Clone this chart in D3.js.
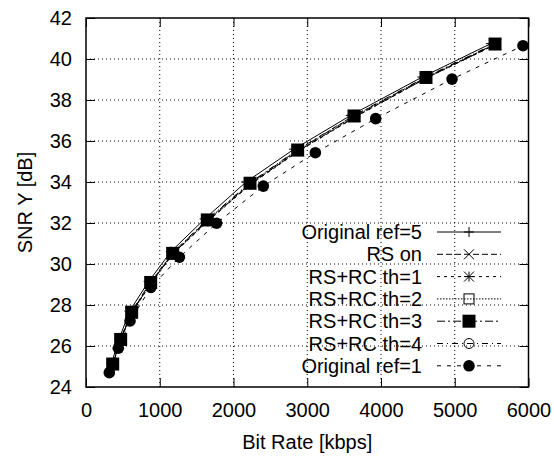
<!DOCTYPE html>
<html>
<head>
<meta charset="utf-8">
<script src="https://cdn.jsdelivr.net/npm/d3@7"></script>
<style>
  body { margin: 0; background: #fff; }
  svg { font-family: "Liberation Sans", Arial, Helvetica, sans-serif; }
</style>
</head>
<body>
<div id="chart"></div>
<script>
// Data
var seriesNames = ["Original ref=5", "RS on", "RS+RC th=1", "RS+RC th=2", "RS+RC th=3", "RS+RC th=4", "Original ref=1"];

var rateRef5 = [345, 450, 590, 850, 1150, 1610, 2170, 2820, 3590, 4560, 5490];
var snrRef5  = [25.15, 26.35, 27.7, 29.15, 30.6, 32.2, 34.0, 35.6, 37.25, 39.12, 40.75];

var rateRsOn = [360, 468, 615, 875, 1178, 1650, 2230, 2880, 3650, 4620, 5560];
var snrRsOn  = [25.1, 26.28, 27.6, 29.05, 30.5, 32.1, 33.9, 35.52, 37.18, 39.08, 40.72];

var rateTh1 = [362, 470, 618, 878, 1180, 1652, 2232, 2882, 3652, 4618, 5558];
var snrTh1  = [25.08, 26.27, 27.58, 29.03, 30.48, 32.08, 33.88, 35.5, 37.17, 39.07, 40.71];

var rateTh2 = [360, 469, 617, 876, 1177, 1648, 2228, 2878, 3645, 4612, 5552];
var snrTh2  = [25.1, 26.3, 27.62, 29.06, 30.5, 32.12, 33.92, 35.53, 37.2, 39.1, 40.72];

var rateTh3 = [362, 470, 619, 877, 1175, 1645, 2224, 2870, 3634, 4610, 5546];
var snrTh3  = [25.12, 26.32, 27.65, 29.1, 30.52, 32.15, 33.94, 35.56, 37.22, 39.1, 40.73];

var rateTh4 = [358, 466, 614, 872, 1172, 1640, 2218, 2865, 3628, 4600, 5540];
var snrTh4  = [25.13, 26.33, 27.66, 29.11, 30.54, 32.16, 33.95, 35.57, 37.23, 39.11, 40.74];

var rateRef1 = [316, 438, 597, 880, 1266, 1771, 2404, 3110, 3928, 4963, 5925];
var snrRef1  = [24.7, 25.89, 27.22, 28.86, 30.33, 31.99, 33.8, 35.43, 37.09, 39.02, 40.65];

var xTicks = [0, 1000, 2000, 3000, 4000, 5000, 6000];
var yTicks = [24, 26, 28, 30, 32, 34, 36, 38, 40, 42];

// chart setup
var W = 554, H = 458;
var margin = {top: 18, right: 25.5, bottom: 71, left: 86};
var width = W - margin.left - margin.right,
    height = H - margin.top - margin.bottom;

var svg = d3.select("#chart").append("svg")
  .attr("width", W)
  .attr("height", H);

var g = svg.append("g")
  .attr("transform", "translate(" + margin.left + "," + margin.top + ")");

var x = d3.scaleLinear().domain([0, 6000]).range([0, width]);
var y = d3.scaleLinear().domain([24, 42]).range([height, 0]);

// dotted grid
var grid = g.append("g").attr("class", "grid");
grid.selectAll("line.gx")
  .data(xTicks.slice(1, -1))
  .enter().append("line")
  .attr("class", "gx")
  .attr("x1", function(d){ return x(d); })
  .attr("x2", function(d){ return x(d); })
  .attr("y1", 0).attr("y2", height);
grid.selectAll("line.gy")
  .data(yTicks.slice(1, -1))
  .enter().append("line")
  .attr("class", "gy")
  .attr("y1", function(d){ return y(d); })
  .attr("y2", function(d){ return y(d); })
  .attr("x1", 0).attr("x2", width);
grid.selectAll("line")
  .attr("stroke", "#000")
  .attr("stroke-width", 1)
  .attr("stroke-dasharray", "1,3");

// axes with inward ticks
var tickLen = 9;
var xAxis = d3.axisBottom(x).tickValues(xTicks).tickFormat(d3.format("d"))
  .tickSizeInner(-tickLen).tickSizeOuter(0).tickPadding(16);
var xAxisTop = d3.axisTop(x).tickValues(xTicks).tickSizeInner(-tickLen).tickSizeOuter(0).tickFormat("");
var yAxis = d3.axisLeft(y).tickValues(yTicks).tickFormat(d3.format("d"))
  .tickSizeInner(-tickLen).tickSizeOuter(0).tickPadding(14);
var yAxisRight = d3.axisRight(y).tickValues(yTicks).tickSizeInner(-tickLen).tickSizeOuter(0).tickFormat("");

g.append("g").attr("class", "axis").attr("transform", "translate(0," + height + ")").call(xAxis);
g.append("g").attr("class", "axis").call(xAxisTop);
g.append("g").attr("class", "axis").call(yAxis);
g.append("g").attr("class", "axis").attr("transform", "translate(" + width + ",0)").call(yAxisRight);

g.selectAll(".axis .domain").remove();
g.selectAll(".axis line").attr("stroke", "#000").attr("stroke-width", 1);
g.selectAll(".axis text")
  .attr("font-size", 20)
  .attr("fill", "#000")
  .style("font-family", "'Liberation Sans', Arial, sans-serif");

// frame
g.append("rect")
  .attr("x", 0).attr("y", 0)
  .attr("width", width).attr("height", height)
  .attr("fill", "none")
  .attr("stroke", "#000")
  .attr("stroke-width", 1.5);

// axis titles
svg.append("text")
  .attr("x", margin.left + width / 2)
  .attr("y", 449)
  .attr("text-anchor", "middle")
  .attr("font-size", 20)
  .text("Bit Rate [kbps]");

svg.append("text")
  .attr("transform", "translate(32," + (margin.top + height / 2) + ") rotate(-90)")
  .attr("text-anchor", "middle")
  .attr("font-size", 20)
  .text("SNR Y [dB]");

// marker drawing
function drawMarker(sel, type) {
  var s = 5;
  if (type == "plus") {
    sel.append("path").attr("d", "M" + (-s) + ",0H" + s + "M0," + (-s) + "V" + s)
      .attr("stroke", "#000").attr("fill", "none");
  } else if (type == "cross") {
    sel.append("path").attr("d", "M" + (-s) + "," + (-s) + "L" + s + "," + s + "M" + (-s) + "," + s + "L" + s + "," + (-s))
      .attr("stroke", "#000").attr("fill", "none");
  } else if (type == "star") {
    sel.append("path").attr("d", "M" + (-s) + ",0H" + s + "M0," + (-s) + "V" + s +
        "M" + (-s) + "," + (-s) + "L" + s + "," + s + "M" + (-s) + "," + s + "L" + s + "," + (-s))
      .attr("stroke", "#000").attr("fill", "none");
  } else if (type == "box") {
    sel.append("rect").attr("x", -s).attr("y", -s).attr("width", 2 * s).attr("height", 2 * s)
      .attr("stroke", "#000").attr("fill", "none");
  } else if (type == "boxfill") {
    sel.append("rect").attr("x", -6.5).attr("y", -6.5).attr("width", 13).attr("height", 13)
      .attr("fill", "#000");
  } else if (type == "circle") {
    sel.append("circle").attr("r", s).attr("stroke", "#000").attr("fill", "none");
  } else if (type == "circlefill") {
    sel.append("circle").attr("r", 5.8).attr("fill", "#000");
  }
}

var series = [
  {name: seriesNames[0], rate: rateRef5, snr: snrRef5, dash: null,      marker: "plus"},
  {name: seriesNames[1], rate: rateRsOn, snr: snrRsOn, dash: "6,3",     marker: "cross"},
  {name: seriesNames[2], rate: rateTh1,  snr: snrTh1,  dash: "3,4",     marker: "star"},
  {name: seriesNames[3], rate: rateTh2,  snr: snrTh2,  dash: "1.5,1.5", marker: "box"},
  {name: seriesNames[4], rate: rateTh3,  snr: snrTh3,  dash: "8,3,2,3", marker: "boxfill"},
  {name: seriesNames[5], rate: rateTh4,  snr: snrTh4,  dash: "6,4,1,4", marker: "circle"},
  {name: seriesNames[6], rate: rateRef1, snr: snrRef1, dash: "4,6",     marker: "circlefill"}
];

var line = d3.line()
  .x(function(d){ return x(d[0]); })
  .y(function(d){ return y(d[1]); });

series.forEach(function(s, i) {
  var pts = s.rate.map(function(r, j){ return [r, s.snr[j]]; });
  var sg = g.append("g").attr("class", "series");
  sg.append("path")
    .datum(pts)
    .attr("d", line)
    .attr("fill", "none")
    .attr("stroke", "#000")
    .attr("stroke-width", 1)
    .attr("stroke-dasharray", s.dash);
  sg.selectAll("g.pt")
    .data(pts)
    .enter().append("g")
    .attr("class", "pt")
    .attr("transform", function(d){ return "translate(" + x(d[0]) + "," + y(d[1]) + ")"; })
    .each(function(){ drawMarker(d3.select(this), s.marker); });

  // legend entry
  var ly = 232 + i * 22.3;
  var lg = svg.append("g").attr("class", "legend");
  lg.append("text")
    .attr("x", 422)
    .attr("y", ly + 7)
    .attr("text-anchor", "end")
    .attr("font-size", 20)
    .text(s.name);
  lg.append("line")
    .attr("x1", 437).attr("x2", 501)
    .attr("y1", ly).attr("y2", ly)
    .attr("stroke", "#000")
    .attr("stroke-width", 1)
    .attr("stroke-dasharray", s.dash);
  var mk = lg.append("g").attr("transform", "translate(469," + ly + ")");
  drawMarker(mk, s.marker);
});
</script>
</body>
</html>
